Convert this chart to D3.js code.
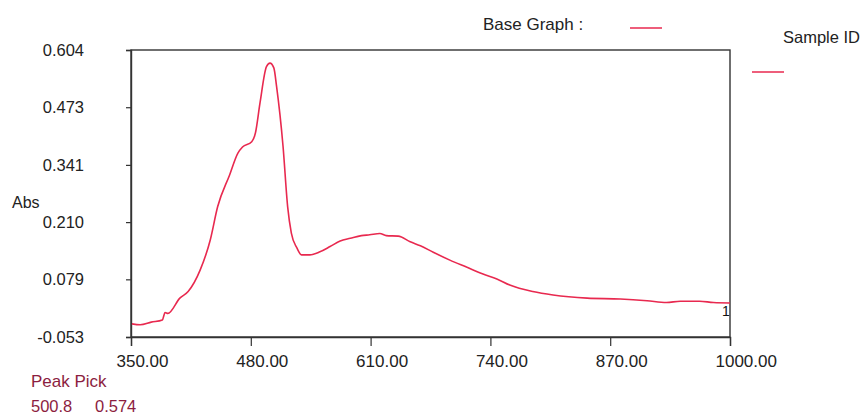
<!DOCTYPE html>
<html>
<head>
<meta charset="utf-8">
<script src="https://cdn.jsdelivr.net/npm/d3@7"></script>
<style>
  body { margin: 0; background: #fff; }
  svg { font-family: "Liberation Sans", Arial, sans-serif; }
</style>
</head>
<body>
<script>
// Spectrum (wavelength nm / absorbance)
var wavelengths = [351, 360, 372, 384, 387, 390, 403, 412, 425, 436, 444, 457, 466, 471, 481, 485, 490, 497, 500.8, 505, 508, 515, 520, 524, 530, 535, 544, 555, 566, 577, 588, 600, 609, 620, 627, 640, 653, 664, 678, 696, 714, 732, 747, 761, 786, 808, 845, 881, 910, 931, 946, 967, 982, 1000];
var absorbance = [-0.023, -0.025, -0.019, -0.014, 0.003, 0.001, 0.036, 0.051, 0.100, 0.169, 0.245, 0.318, 0.368, 0.382, 0.394, 0.414, 0.483, 0.566, 0.574, 0.563, 0.520, 0.383, 0.245, 0.185, 0.151, 0.135, 0.135, 0.142, 0.154, 0.167, 0.173, 0.179, 0.181, 0.184, 0.179, 0.178, 0.165, 0.156, 0.141, 0.123, 0.107, 0.091, 0.080, 0.066, 0.051, 0.043, 0.036, 0.034, 0.030, 0.026, 0.029, 0.029, 0.026, 0.025];

// Tick labels
var xTicks = [350, 480, 610, 740, 870, 1000];
var yTicks = [-0.053, 0.079, 0.210, 0.341, 0.473, 0.604];

var peak = { wl: "500.8", abs: "0.574" };

var width = 866, height = 417;
var plotLeft = 131, plotRight = 730, plotTop = 50, plotBottom = 337;
var red = "#e8294f";
var maroon = "#8c1d40";

var svg = d3.select("body").append("svg")
  .attr("width", width)
  .attr("height", height);

var x = d3.scaleLinear().domain([350, 1000]).range([plotLeft, plotRight]);
var y = d3.scaleLinear().domain([-0.053, 0.604]).range([plotBottom, plotTop]);

//frame
svg.append("rect")
  .attr("x", plotLeft).attr("y", plotTop)
  .attr("width", plotRight - plotLeft).attr("height", plotBottom - plotTop)
  .attr("fill", "none").attr("stroke", "#333").attr("stroke-width", 1.4);

//x axis
var gx = svg.append("g")
  .attr("transform", "translate(0," + plotBottom + ")")
  .call(d3.axisBottom(x).tickValues(xTicks).tickSize(9)
    .tickFormat(function (d) { return d.toFixed(2); }));
gx.select(".domain").attr("stroke", "#333").attr("stroke-width", 1.4);
gx.selectAll(".tick line").attr("stroke", "#333").attr("stroke-width", 1.2);
gx.selectAll(".tick text")
  .attr("text-anchor", "start")
  .attr("x", -15).attr("y", 30).attr("dy", null)
  .attr("fill", "#222").style("font-size", "17px");

//y axis
var gy = svg.append("g")
  .attr("transform", "translate(" + plotLeft + ",0)")
  .call(d3.axisLeft(y).tickValues(yTicks).tickSize(5).tickPadding(42)
    .tickFormat(function (d) { return d.toFixed(3); }));
gy.select(".domain").attr("stroke", "#333").attr("stroke-width", 1.4);
gy.selectAll(".tick line").attr("stroke", "#333").attr("stroke-width", 1.2);
gy.selectAll(".tick text").attr("fill", "#222").style("font-size", "16.5px");

svg.append("text").attr("x", 12).attr("y", 208)
  .attr("fill", "#222").style("font-size", "16px").text("Abs");

//spectrum line
var data = wavelengths.map(function (d, i) { return [d, absorbance[i]]; });
var line = d3.line()
  .curve(d3.curveMonotoneX)
  .x(function (d) { return x(d[0]); })
  .y(function (d) { return y(d[1]); });

svg.append("path").datum(data)
  .attr("d", line)
  .attr("fill", "none")
  .attr("stroke", red)
  .attr("stroke-width", 1.6);

//curve number
svg.append("text").attr("x", 722).attr("y", 316)
  .attr("fill", "#111").style("font-size", "14px").text("1");

//legend
svg.append("text").attr("x", 483).attr("y", 30)
  .attr("fill", "#222").style("font-size", "17px").text("Base Graph :");
svg.append("line").attr("x1", 630).attr("x2", 662).attr("y1", 28).attr("y2", 28)
  .attr("stroke", red).attr("stroke-width", 1.5);
svg.append("text").attr("x", 783).attr("y", 43)
  .attr("fill", "#222").style("font-size", "16.5px").text("Sample ID");
svg.append("line").attr("x1", 752).attr("x2", 784).attr("y1", 72).attr("y2", 72)
  .attr("stroke", red).attr("stroke-width", 1.5);

//peak pick
svg.append("text").attr("x", 31).attr("y", 387)
  .attr("fill", maroon).style("font-size", "17px").text("Peak Pick");
svg.append("text").attr("x", 31).attr("y", 412)
  .attr("fill", maroon).style("font-size", "16.5px").text(peak.wl);
svg.append("text").attr("x", 95).attr("y", 412)
  .attr("fill", maroon).style("font-size", "16.5px").text(peak.abs);
</script>
</body>
</html>
